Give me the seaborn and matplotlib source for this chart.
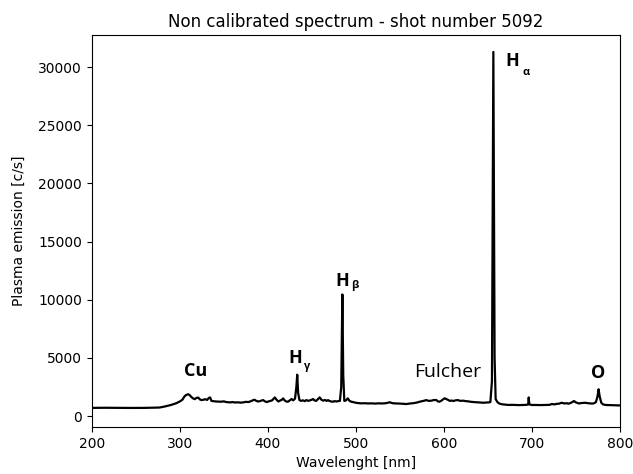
import matplotlib
matplotlib.use("Agg")
import matplotlib.pyplot as plt
import seaborn as sns
import pandas as pd

# Wavelength [nm] and intensity [c/s]
wavelength = [
    200, 215, 230, 245, 260, 270, 277, 283, 290, 296,
    300, 303, 305, 307, 309.5, 311, 313, 315, 317, 319,
    321, 323, 324.6, 327, 329, 331, 333, 334.5, 336, 338,
    341, 344, 347, 350, 353, 357, 360, 363, 366, 369,
    372, 375, 378, 381, 383, 385, 387, 389, 391, 393,
    394.7, 397, 399, 401, 403, 405, 406.5, 408, 410, 412,
    414, 416, 417.5, 419, 421, 423, 425, 427, 429, 431,
    432.5, 433.5, 434.5, 436, 438, 440, 442, 444, 446, 448,
    450, 451.5, 453, 455, 457, 459, 461, 463, 465, 467,
    468.5, 470, 472, 474, 476, 478, 480, 482, 483.5, 484.8,
    485.8, 487, 489, 491, 493, 495, 497, 500, 503, 506,
    510, 514, 518, 522, 526, 530, 534, 538.6, 542, 546,
    550, 554, 557.6, 561, 565, 569, 572.7, 576, 578, 580,
    583, 586, 589, 591.7, 593.5, 595, 597, 599, 601, 603,
    605, 607, 609, 611, 613, 616, 619, 622, 625, 628,
    630, 634, 638, 642, 645.5, 648, 651, 653, 654.8, 656.4,
    657.8, 659, 661, 662.8, 665, 667, 670, 674, 678, 682,
    686, 690, 694, 696, 696.6, 697.3, 700, 705, 710, 715,
    720, 723, 726, 728.6, 731, 734, 737, 740, 742, 745,
    748, 750, 753.5, 757, 761, 764, 767, 769, 771, 773,
    774.8, 776, 777.2, 779, 781, 784, 788, 792, 796, 800,
]
intensity = [
    700, 710, 700, 695, 700, 715, 730, 820, 950, 1100,
    1250, 1400, 1650, 1800, 1870, 1820, 1650, 1520, 1450, 1560,
    1580, 1420, 1370, 1400, 1450, 1380, 1550, 1600, 1300, 1280,
    1250, 1240, 1230, 1260, 1200, 1170, 1200, 1160, 1180, 1150,
    1170, 1220, 1200, 1280, 1350, 1400, 1300, 1250, 1280, 1330,
    1370, 1250, 1200, 1260, 1300, 1350, 1480, 1600, 1400, 1250,
    1330, 1400, 1520, 1350, 1250, 1230, 1350, 1460, 1350, 1500,
    2500, 3550, 2000, 1370, 1300, 1350, 1280, 1370, 1300, 1350,
    1400, 1460, 1350, 1300, 1450, 1600, 1400, 1320, 1380, 1300,
    1370, 1300, 1250, 1230, 1280, 1250, 1280, 1300, 2500, 10450,
    3500, 1300, 1350, 1520, 1300, 1230, 1200, 1140, 1110, 1090,
    1100, 1080, 1090, 1070, 1090, 1080, 1100, 1180, 1100, 1080,
    1070, 1050, 1030, 1070, 1100, 1150, 1230, 1280, 1320, 1370,
    1300, 1320, 1380, 1370, 1250, 1230, 1300, 1420, 1520, 1460,
    1380, 1300, 1330, 1290, 1340, 1370, 1300, 1320, 1280, 1260,
    1230, 1200, 1180, 1160, 1140, 1160, 1170, 1200, 3000, 31300,
    5000, 1460, 1200, 1090, 1030, 1000, 980, 950, 960, 950,
    940, 950, 960, 1000, 1600, 1000, 950, 950, 940, 950,
    960, 1030, 1000, 1050, 1060, 1140, 1080, 1100, 1060, 1150,
    1290, 1180, 1080, 1120, 1140, 1100, 1080, 1070, 1100, 1200,
    1700, 2300, 1700, 1150, 1000, 950, 940, 930, 920, 910,
]
assert len(wavelength) == len(intensity)

# Element labels: (label, x, y)
main_labels = ["Cu", "Fulcher", "O"]
main_x = [317.6, 604.5, 776]
main_y = [3860, 3770, 3690]

# Hydrogen lines: "H" centre x / baseline y, subscript offsets (points)
h_subs = ["γ", "β", "α"]
h_x = [431.8, 484.7, 677.8]
h_y = [4545, 11150, 30100]
sub_dx = [5.4, 6.1, 7.6]
sub_dy = [-4.3, -1.5, -6.5]

df = pd.DataFrame({"wl": wavelength, "I": intensity})

fig = plt.figure(figsize=(6.33, 4.74), dpi=100)
ax = fig.add_axes([0.145, 0.099, 0.834, 0.827])
sns.lineplot(data=df, x="wl", y="I", color="black", linewidth=1.6, ax=ax)

ax.set_xlim(200, 800)
ax.set_ylim(-950, 32750)
ax.set_title("Non calibrated spectrum - shot number 5092", fontsize=12)
ax.set_xlabel("Wavelenght [nm]")
ax.set_ylabel("Plasma emission [c/s]", labelpad=9)

lab_font = ["Open Sans", "DejaVu Sans"]
for lab, x, y in zip(main_labels, main_x, main_y):
    ax.text(x, y, lab, ha="center", va="center", fontsize=14 if lab == "Fulcher" else 13,
            fontweight="normal" if lab == "Fulcher" else "bold", family=lab_font)

for sub, x, y, dx, dy in zip(h_subs, h_x, h_y, sub_dx, sub_dy):
    ax.text(x, y, "H", ha="center", va="baseline", fontsize=13, fontweight="bold", family=lab_font)
    ax.annotate(sub, xy=(x, y), xytext=(dx, dy), textcoords="offset points",
                ha="left", va="baseline", fontsize=8, fontweight="bold", family=lab_font)

fig.savefig("out.png", dpi=100)
